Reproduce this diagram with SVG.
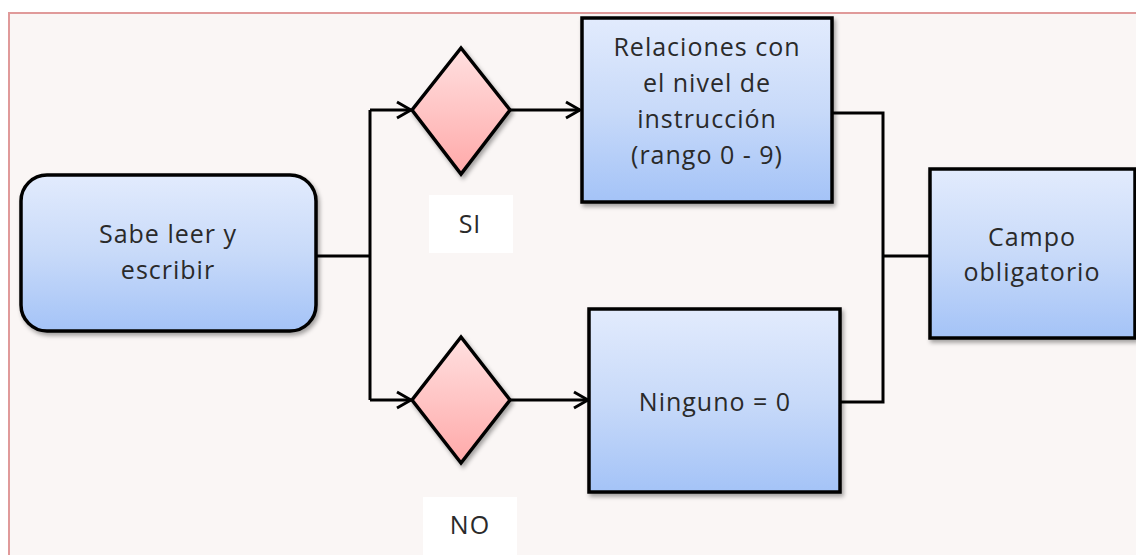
<svg xmlns="http://www.w3.org/2000/svg" width="1136" height="555" viewBox="0 0 1136 555">
<style>
.box{fill:url(#blue);stroke:#000;stroke-width:3.5;filter:url(#sh)}
.dia{fill:url(#pink);stroke:#000;stroke-width:3.5;filter:url(#sh)}
.ln{fill:none;stroke:#000;stroke-width:3}
.arr{fill:none;stroke:#000;stroke-width:3;marker-end:url(#ah)}
.t{font-family:"Open Sans","Liberation Sans",sans-serif;font-size:25px;letter-spacing:1px;fill:#2a2a2a;text-anchor:middle}
</style>
<defs>
<linearGradient id="blue" x1="0" y1="0" x2="0" y2="1">
<stop offset="0" stop-color="#e2ebfd"/>
<stop offset="0.5" stop-color="#c8daf9"/>
<stop offset="1" stop-color="#a4c3f7"/>
</linearGradient>
<linearGradient id="pink" x1="0" y1="0" x2="0" y2="1">
<stop offset="0" stop-color="#ffe0e0"/>
<stop offset="1" stop-color="#ffa9a9"/>
</linearGradient>
<filter id="sh" x="-10%" y="-10%" width="130%" height="130%">
<feDropShadow dx="2" dy="3" stdDeviation="2" flood-color="#000" flood-opacity="0.35"/>
</filter>
<marker id="ah" viewBox="0 0 20 20" refX="18" refY="10" markerWidth="20" markerHeight="20" markerUnits="userSpaceOnUse" orient="auto">
<path d="M4 2 L18 10 L4 18" fill="none" stroke="#000" stroke-width="3"/>
</marker>
</defs>
<rect x="0" y="0" width="1136" height="555" fill="#fff"/>
<rect x="9" y="13" width="1140" height="560" fill="#faf6f5" stroke="#e09a9a" stroke-width="2"/>
<g id="connectors">
<path class="ln" d="M316 256 H370 M370 110 V400"/>
<path class="arr" d="M370 110 H411"/>
<path class="arr" d="M370 400 H411"/>
<path class="arr" d="M510 110 H580"/>
<path class="arr" d="M510 400 H588"/>
<path class="ln" d="M832 113 H883 V402 H837 M883 256 H930"/>
</g>
<g id="sabe">
<rect class="box" x="21" y="175" width="295" height="156" rx="26"/>
<text class="t" x="168" y="243">Sabe leer y</text>
<text class="t" x="168" y="279">escribir</text>
</g>
<g id="dSi">
<polygon class="dia" points="461,48 510,110 461,174 412,110"/>
</g>
<g id="dNo">
<polygon class="dia" points="461,337 510,400 461,463 412,400"/>
</g>
<g id="lblSi">
<rect x="429" y="195" width="84" height="58" fill="#fff"/>
<text class="t" x="470" y="233">SI</text>
</g>
<g id="lblNo">
<rect x="423" y="497" width="94" height="60" fill="#fff"/>
<text class="t" x="470" y="534">NO</text>
</g>
<g id="relaciones">
<rect class="box" x="582" y="18" width="250" height="184"/>
<text class="t" x="707" y="56">Relaciones con</text>
<text class="t" x="707" y="92">el nivel de</text>
<text class="t" x="707" y="128">instrucción</text>
<text class="t" x="707" y="164">(rango 0 - 9)</text>
</g>
<g id="ninguno">
<rect class="box" x="589" y="309" width="251" height="183"/>
<text class="t" x="715" y="411">Ninguno = 0</text>
</g>
<g id="campo">
<rect class="box" x="930" y="169" width="205" height="169"/>
<text class="t" x="1032" y="246">Campo</text>
<text class="t" x="1032" y="281">obligatorio</text>
</g>
</svg>
